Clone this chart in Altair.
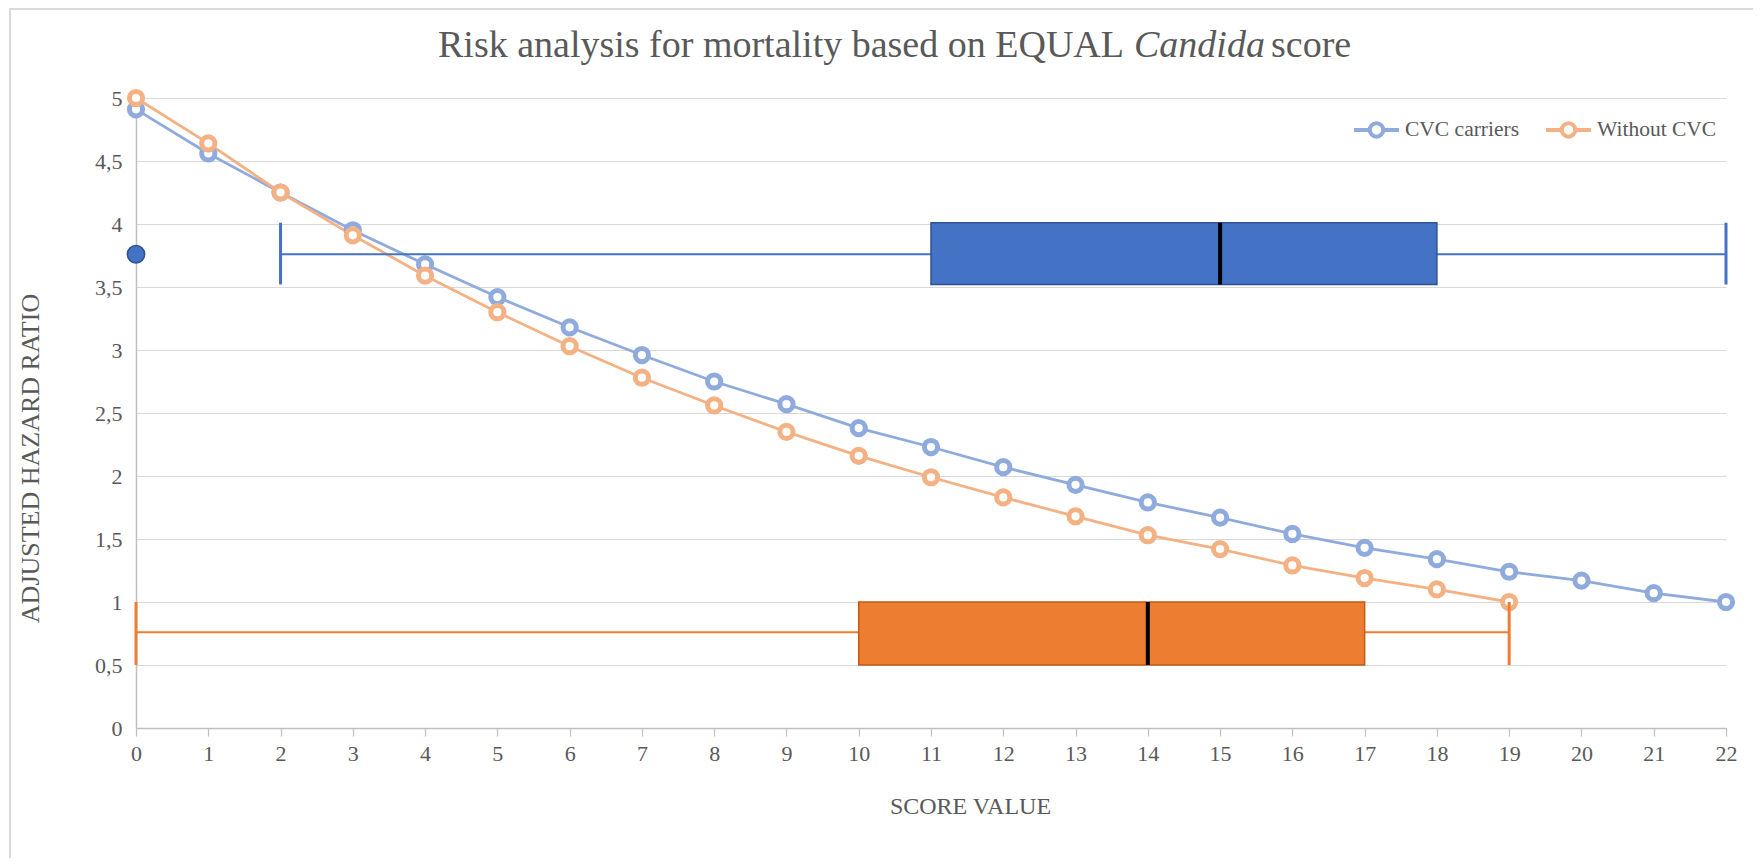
import altair as alt
import pandas as pd

# ---------------- data ----------------
SERIES = ["CVC carriers", "Without CVC"]
score_cvc = list(range(23))
hr_cvc = [4.91, 4.56, 4.25, 3.95, 3.68, 3.42, 3.18, 2.96, 2.75, 2.57, 2.38, 2.23,
          2.07, 1.93, 1.79, 1.67, 1.54, 1.43, 1.34, 1.24, 1.17, 1.07, 1.00]
score_wo = list(range(20))
hr_wo = [5.00, 4.64, 4.25, 3.91, 3.59, 3.30, 3.03, 2.78, 2.56, 2.35, 2.16, 1.99,
         1.83, 1.68, 1.53, 1.42, 1.29, 1.19, 1.10, 1.00]

# box plots (score distribution) drawn as horizontal boxes
box_whisker_lo = [2, 0]
box_q1 = [11, 10]
box_median = [15, 14]
box_q3 = [18, 17]
box_whisker_hi = [22, 19]
box_bottom = [3.52, 0.50]
box_top = [4.01, 1.00]
box_mid = [3.76, 0.76]
outlier_x = [0]
outlier_y = [3.76]

x_ticks = list(range(23))
y_ticks = [0, 0.5, 1, 1.5, 2, 2.5, 3, 3.5, 4, 4.5, 5]

TITLE_PARTS = ["Risk analysis for mortality based on EQUAL", "Candida", "score"]
X_TITLE = "SCORE VALUE"
Y_TITLE = "ADJUSTED HAZARD RATIO"

# ---------------- styles ----------------
FONT = "Liberation Serif, Times New Roman, serif"
TXT = "#595959"
LINE_COLORS = ["#8FAADC", "#F4B183"]
BOX_FILL = ["#4472C4", "#ED7D31"]
BOX_STROKE = ["#2F528F", "#C55A11"]

df_lines = pd.DataFrame({
    "score": score_cvc + score_wo,
    "hr": hr_cvc + hr_wo,
    "series": [SERIES[0]] * len(score_cvc) + [SERIES[1]] * len(score_wo),
})

xscale = alt.Scale(domain=[0, 22], nice=False, zero=False)
yscale = alt.Scale(domain=[0, 5], nice=False)

xaxis = alt.Axis(values=x_ticks, title=X_TITLE, grid=False, labelFont=FONT,
                 labelFontSize=22, labelColor=TXT, titleFont=FONT, titleFontSize=24,
                 titleColor=TXT, titleFontWeight="normal", domainColor="#BFBFBF",
                 domainWidth=1.5, tickColor="#BFBFBF", tickSize=8, tickWidth=1.2,
                 labelPadding=7, titleX=834, titleY=78, titleBaseline="middle",
                 labelFlush=False)
yaxis = alt.Axis(values=y_ticks, title=Y_TITLE, grid=True, gridColor="#D9D9D9",
                 gridWidth=1, ticks=False, labelFont=FONT, labelFontSize=22,
                 labelColor=TXT, labelPadding=14,
                 labelExpr="replace(toString(datum.value), '.', ',')",
                 titleFont=FONT, titleFontSize=26, titleColor=TXT,
                 titleFontWeight="normal", domainColor="#BFBFBF", domainWidth=1.5,
                 titleX=-106, titleY=360, titleBaseline="middle", titleAngle=-90)

LEGEND_PATH = ("M-1,0L-0.3,0M0.3,0L1,0M-0.3,0A0.3,0.3,0,1,0,0.3,0"
               "A0.3,0.3,0,1,0,-0.3,0Z")
legend = alt.Legend(title=None, orient="none", legendX=1216, legendY=7,
                    direction="horizontal", symbolType=LEGEND_PATH, symbolSize=2025,
                    symbolStrokeWidth=4, symbolFillColor="white",
                    labelFont=FONT, labelFontSize=21.5, labelColor=TXT, labelOffset=4,
                    columnPadding=18, padding=0)
color = alt.Color("series:N", scale=alt.Scale(domain=SERIES, range=LINE_COLORS),
                  legend=legend)

lines = alt.Chart(df_lines).mark_line(strokeWidth=2.8).encode(
    x=alt.X("score:Q", scale=xscale, axis=xaxis),
    y=alt.Y("hr:Q", scale=yscale, axis=yaxis),
    color=color,
    detail="series:N",
)
points = alt.Chart(df_lines).mark_point(
    shape="circle", filled=False, fill="white", fillOpacity=1, opacity=1,
    size=175, strokeWidth=5, clip=False
).encode(
    x=alt.X("score:Q", scale=xscale, axis=xaxis),
    y=alt.Y("hr:Q", scale=yscale, axis=yaxis),
    color=color,
)

layers = [lines, points]

for i in range(2):
    d = pd.DataFrame({
        "lo": [box_whisker_lo[i]], "q1": [box_q1[i]], "med": [box_median[i]],
        "q3": [box_q3[i]], "hi": [box_whisker_hi[i]],
        "bot": [box_bottom[i]], "top": [box_top[i]], "mid": [box_mid[i]],
    })
    base = alt.Chart(d)
    whisk_l = base.mark_rule(color=BOX_FILL[i], strokeWidth=2).encode(
        x=alt.X("lo:Q", scale=xscale, axis=xaxis), x2="q1:Q",
        y=alt.Y("mid:Q", scale=yscale, axis=yaxis))
    whisk_r = base.mark_rule(color=BOX_FILL[i], strokeWidth=2).encode(
        x=alt.X("q3:Q", scale=xscale, axis=xaxis), x2="hi:Q",
        y=alt.Y("mid:Q", scale=yscale, axis=yaxis))
    box = base.mark_rect(fill=BOX_FILL[i], stroke=BOX_STROKE[i],
                         strokeWidth=1.5).encode(
        x=alt.X("q1:Q", scale=xscale, axis=xaxis), x2="q3:Q",
        y=alt.Y("bot:Q", scale=yscale, axis=yaxis), y2="top:Q")
    med = base.mark_rule(color="black", strokeWidth=4).encode(
        x=alt.X("med:Q", scale=xscale, axis=xaxis),
        y=alt.Y("bot:Q", scale=yscale, axis=yaxis), y2="top:Q")
    cap_l = base.mark_rule(color=BOX_FILL[i], strokeWidth=3).encode(
        x=alt.X("lo:Q", scale=xscale, axis=xaxis),
        y=alt.Y("bot:Q", scale=yscale, axis=yaxis), y2="top:Q")
    cap_r = base.mark_rule(color=BOX_FILL[i], strokeWidth=3).encode(
        x=alt.X("hi:Q", scale=xscale, axis=xaxis),
        y=alt.Y("bot:Q", scale=yscale, axis=yaxis), y2="top:Q")
    layers += [whisk_l, whisk_r, box, med, cap_l, cap_r]

df_out = pd.DataFrame({"score": outlier_x, "hr": outlier_y})
outlier = alt.Chart(df_out).mark_point(
    shape="circle", filled=True, fill=BOX_FILL[0], stroke=BOX_STROKE[0],
    strokeWidth=1.5, size=300, opacity=1, clip=False
).encode(
    x=alt.X("score:Q", scale=xscale, axis=xaxis),
    y=alt.Y("hr:Q", scale=yscale, axis=yaxis),
)
layers.append(outlier)

# title in three pieces (the genus name is italic)
df_t = pd.DataFrame({"a": [0]})
t1 = alt.Chart(df_t).mark_text(text=TITLE_PARTS[0], font=FONT, fontSize=38,
                               color=TXT, align="right", baseline="alphabetic").encode(
    x=alt.value(988), y=alt.value(-41))
t2 = alt.Chart(df_t).mark_text(text=TITLE_PARTS[1], font=FONT, fontSize=38,
                               fontStyle="italic", color=TXT, align="left",
                               baseline="alphabetic").encode(
    x=alt.value(998), y=alt.value(-41))
t3 = alt.Chart(df_t).mark_text(text=TITLE_PARTS[2], font=FONT, fontSize=38,
                               color=TXT, align="left", baseline="alphabetic").encode(
    x=alt.value(1135), y=alt.value(-41))
frame = alt.Chart(df_t).mark_rect(fill="transparent", stroke="#D9D9D9",
                                  strokeWidth=2, clip=False).encode(
    x=alt.value(-126), x2=alt.value(1700), y=alt.value(-89), y2=alt.value(900))
layers += [t1, t2, t3, frame]

chart = alt.layer(*layers).properties(
    width=1590, height=630,
    autosize=alt.AutoSizeParams(type="none"),
    padding={"left": 128, "top": 90, "right": 27, "bottom": 130},
).configure_view(stroke=None)

chart.save("out.html", embed_options={"renderer": "svg", "actions": False})
